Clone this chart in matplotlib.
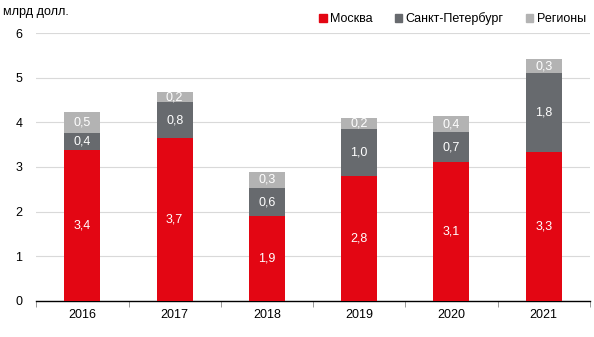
import numpy as np
import matplotlib.pyplot as plt
from matplotlib.patches import Patch

plt.rcParams['font.family'] = ['Liberation Sans', 'DejaVu Sans']
plt.rcParams['font.size'] = 9

years = ['2016', '2017', '2018', '2019', '2020', '2021']
moscow = [3.38, 3.65, 1.90, 2.80, 3.11, 3.33]
spb = [0.38, 0.80, 0.63, 1.05, 0.67, 1.77]
regions = [0.47, 0.23, 0.36, 0.24, 0.36, 0.31]
moscow_lbl = ['3,4', '3,7', '1,9', '2,8', '3,1', '3,3']
spb_lbl = ['0,4', '0,8', '0,6', '1,0', '0,7', '1,8']
reg_lbl = ['0,5', '0,2', '0,3', '0,2', '0,4', '0,3']

c_red = '#e30613'
c_dark = '#676a6e'
c_light = '#b3b3b3'

fig = plt.figure(figsize=(5.94, 3.37), dpi=100)
ax = fig.add_axes([0.061, 0.107, 0.932, 0.795])

x = np.arange(len(years))
w = 0.39
mos = np.array(moscow)
sp = np.array(spb)
rg = np.array(regions)

ax.bar(x, mos, w, color=c_red, zorder=3)
ax.bar(x, sp, w, bottom=mos, color=c_dark, zorder=3)
ax.bar(x, rg, w, bottom=mos + sp, color=c_light, zorder=3)

for i in range(len(years)):
    ax.text(x[i], mos[i] / 2, moscow_lbl[i], ha='center', va='center', color='white', zorder=4)
    ax.text(x[i], mos[i] + sp[i] / 2, spb_lbl[i], ha='center', va='center', color='white', zorder=4)
    ax.text(x[i], mos[i] + sp[i] + rg[i] / 2, reg_lbl[i], ha='center', va='center', color='white', zorder=4)

ax.set_ylim(0, 6)
ax.set_xlim(-0.5, 5.5)
ax.set_yticks(range(0, 7))
ax.yaxis.grid(True, color='#d9d9d9', linewidth=0.8, zorder=0)
ax.tick_params(axis='y', length=0, pad=10)

ax.set_xticks(x)
ax.set_xticklabels(years)
ax.set_xticks(np.arange(-0.5, 6, 1), minor=True)
ax.tick_params(axis='x', which='major', length=0, pad=6)
ax.tick_params(axis='x', which='minor', length=4, color='#888888', direction='out')

for s in ['left', 'right', 'top']:
    ax.spines[s].set_visible(False)
ax.spines['bottom'].set_color('black')
ax.spines['bottom'].set_linewidth(1.0)

fig.text(0.005, 0.965, 'млрд долл.', ha='left', va='center')

handles = [Patch(color=c_red), Patch(color=c_dark), Patch(color=c_light)]
fig.legend(handles, ['Москва', 'Санкт-Петербург', 'Регионы'], loc='center right',
           bbox_to_anchor=(1.005, 0.945), ncol=3, frameon=False,
           handlelength=0.6, handleheight=0.6, handletextpad=0.25, columnspacing=1.8)

fig.savefig('out.png', dpi=100)
